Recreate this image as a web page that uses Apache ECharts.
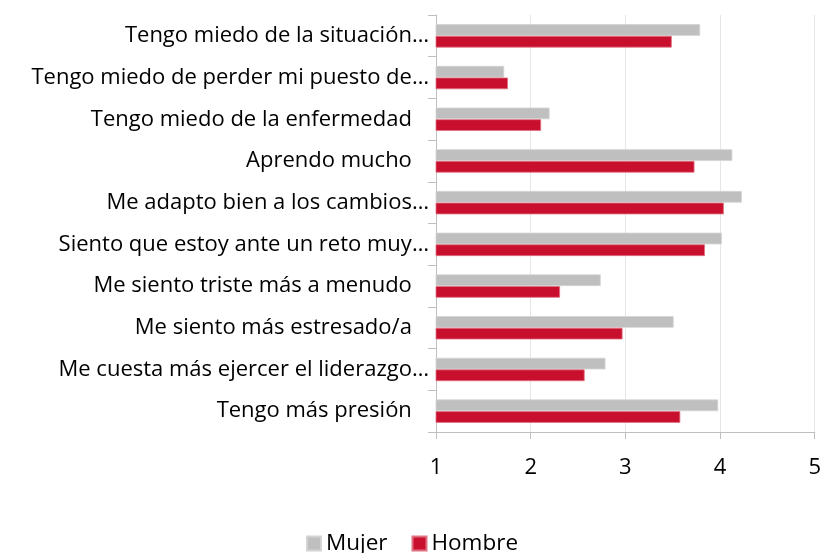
<!DOCTYPE html>
<html>
<head>
<meta charset="utf-8">
<script src="https://cdn.jsdelivr.net/npm/echarts@6/dist/echarts.min.js"></script>
<style>
  html, body { margin: 0; padding: 0; background: #fff; }
  #chart { width: 824px; height: 553px; }
</style>
</head>
<body>
<div id="chart"></div>
<script>
// Survey statements, listed top to bottom
const categories = [
  'Tengo miedo de la situación…',
  'Tengo miedo de perder mi puesto de…',
  'Tengo miedo de la enfermedad ',
  'Aprendo mucho ',
  'Me adapto bien a los cambios…',
  'Siento que estoy ante un reto muy…',
  'Me siento triste más a menudo ',
  'Me siento más estresado/a ',
  'Me cuesta más ejercer el liderazgo…',
  'Tengo más presión '
];

// Mean agreement scores (1–5) by gender
const mujer  = [3.79, 1.72, 2.20, 4.13, 4.23, 4.02, 2.74, 3.51, 2.79, 3.98];
const hombre = [3.49, 1.76, 2.11, 3.73, 4.04, 3.84, 2.31, 2.97, 2.57, 3.58];

const seriesNames = ['Mujer', 'Hombre'];
const axisTicks = [1, 2, 3, 4, 5];

const FONT = 'Open Sans';
const LABEL_SIZE = 22;
const chart = echarts.init(document.getElementById('chart'));

chart.setOption({
  animation: false,
  textStyle: { fontFamily: FONT, color: '#000' },
  grid: { left: 436, right: 7, top: 15, bottom: 121, containLabel: false },
  legend: {
    data: seriesNames,
    top: 527,
    left: 'center',
    itemWidth: 14,
    itemHeight: 14,
    itemGap: 24,
    icon: 'rect',
    textStyle: { fontFamily: FONT, fontSize: 22.5, color: '#000' }
  },
  xAxis: {
    type: 'value',
    min: axisTicks[0],
    max: axisTicks[axisTicks.length - 1],
    interval: 1,
    axisLine: { show: true, lineStyle: { color: '#bfbfbf', width: 1 } },
    axisTick: { show: true, length: 7, lineStyle: { color: '#bfbfbf' } },
    splitLine: { show: true, lineStyle: { color: '#e6e6e6', width: 1 } },
    axisLabel: { fontFamily: FONT, fontSize: LABEL_SIZE, color: '#000', margin: 25 }
  },
  yAxis: {
    type: 'category',
    data: categories,
    inverse: true,
    axisLine: { show: true, lineStyle: { color: '#bfbfbf', width: 1 } },
    axisTick: { show: true, length: 8, lineStyle: { color: '#bfbfbf' } },
    axisLabel: {
      fontFamily: FONT,
      fontSize: LABEL_SIZE,
      color: '#000',
      margin: 7,
      // statements that end with a space keep a wider gap before the axis
      formatter: (v) => (v.endsWith(' ') ? v + '  ' : v)
    }
  },
  series: [
    {
      name: seriesNames[0],
      type: 'bar',
      data: mujer,
      barGap: '0%',
      barCategoryGap: '44%',
      itemStyle: { color: '#bfbfbf', borderColor: '#d4d4d4', borderWidth: 0.8 }
    },
    {
      name: seriesNames[1],
      type: 'bar',
      data: hombre,
      barGap: '0%',
      barCategoryGap: '44%',
      itemStyle: { color: '#c8102e', borderColor: '#e07080', borderWidth: 0.8 }
    }
  ]
});
</script>
</body>
</html>
